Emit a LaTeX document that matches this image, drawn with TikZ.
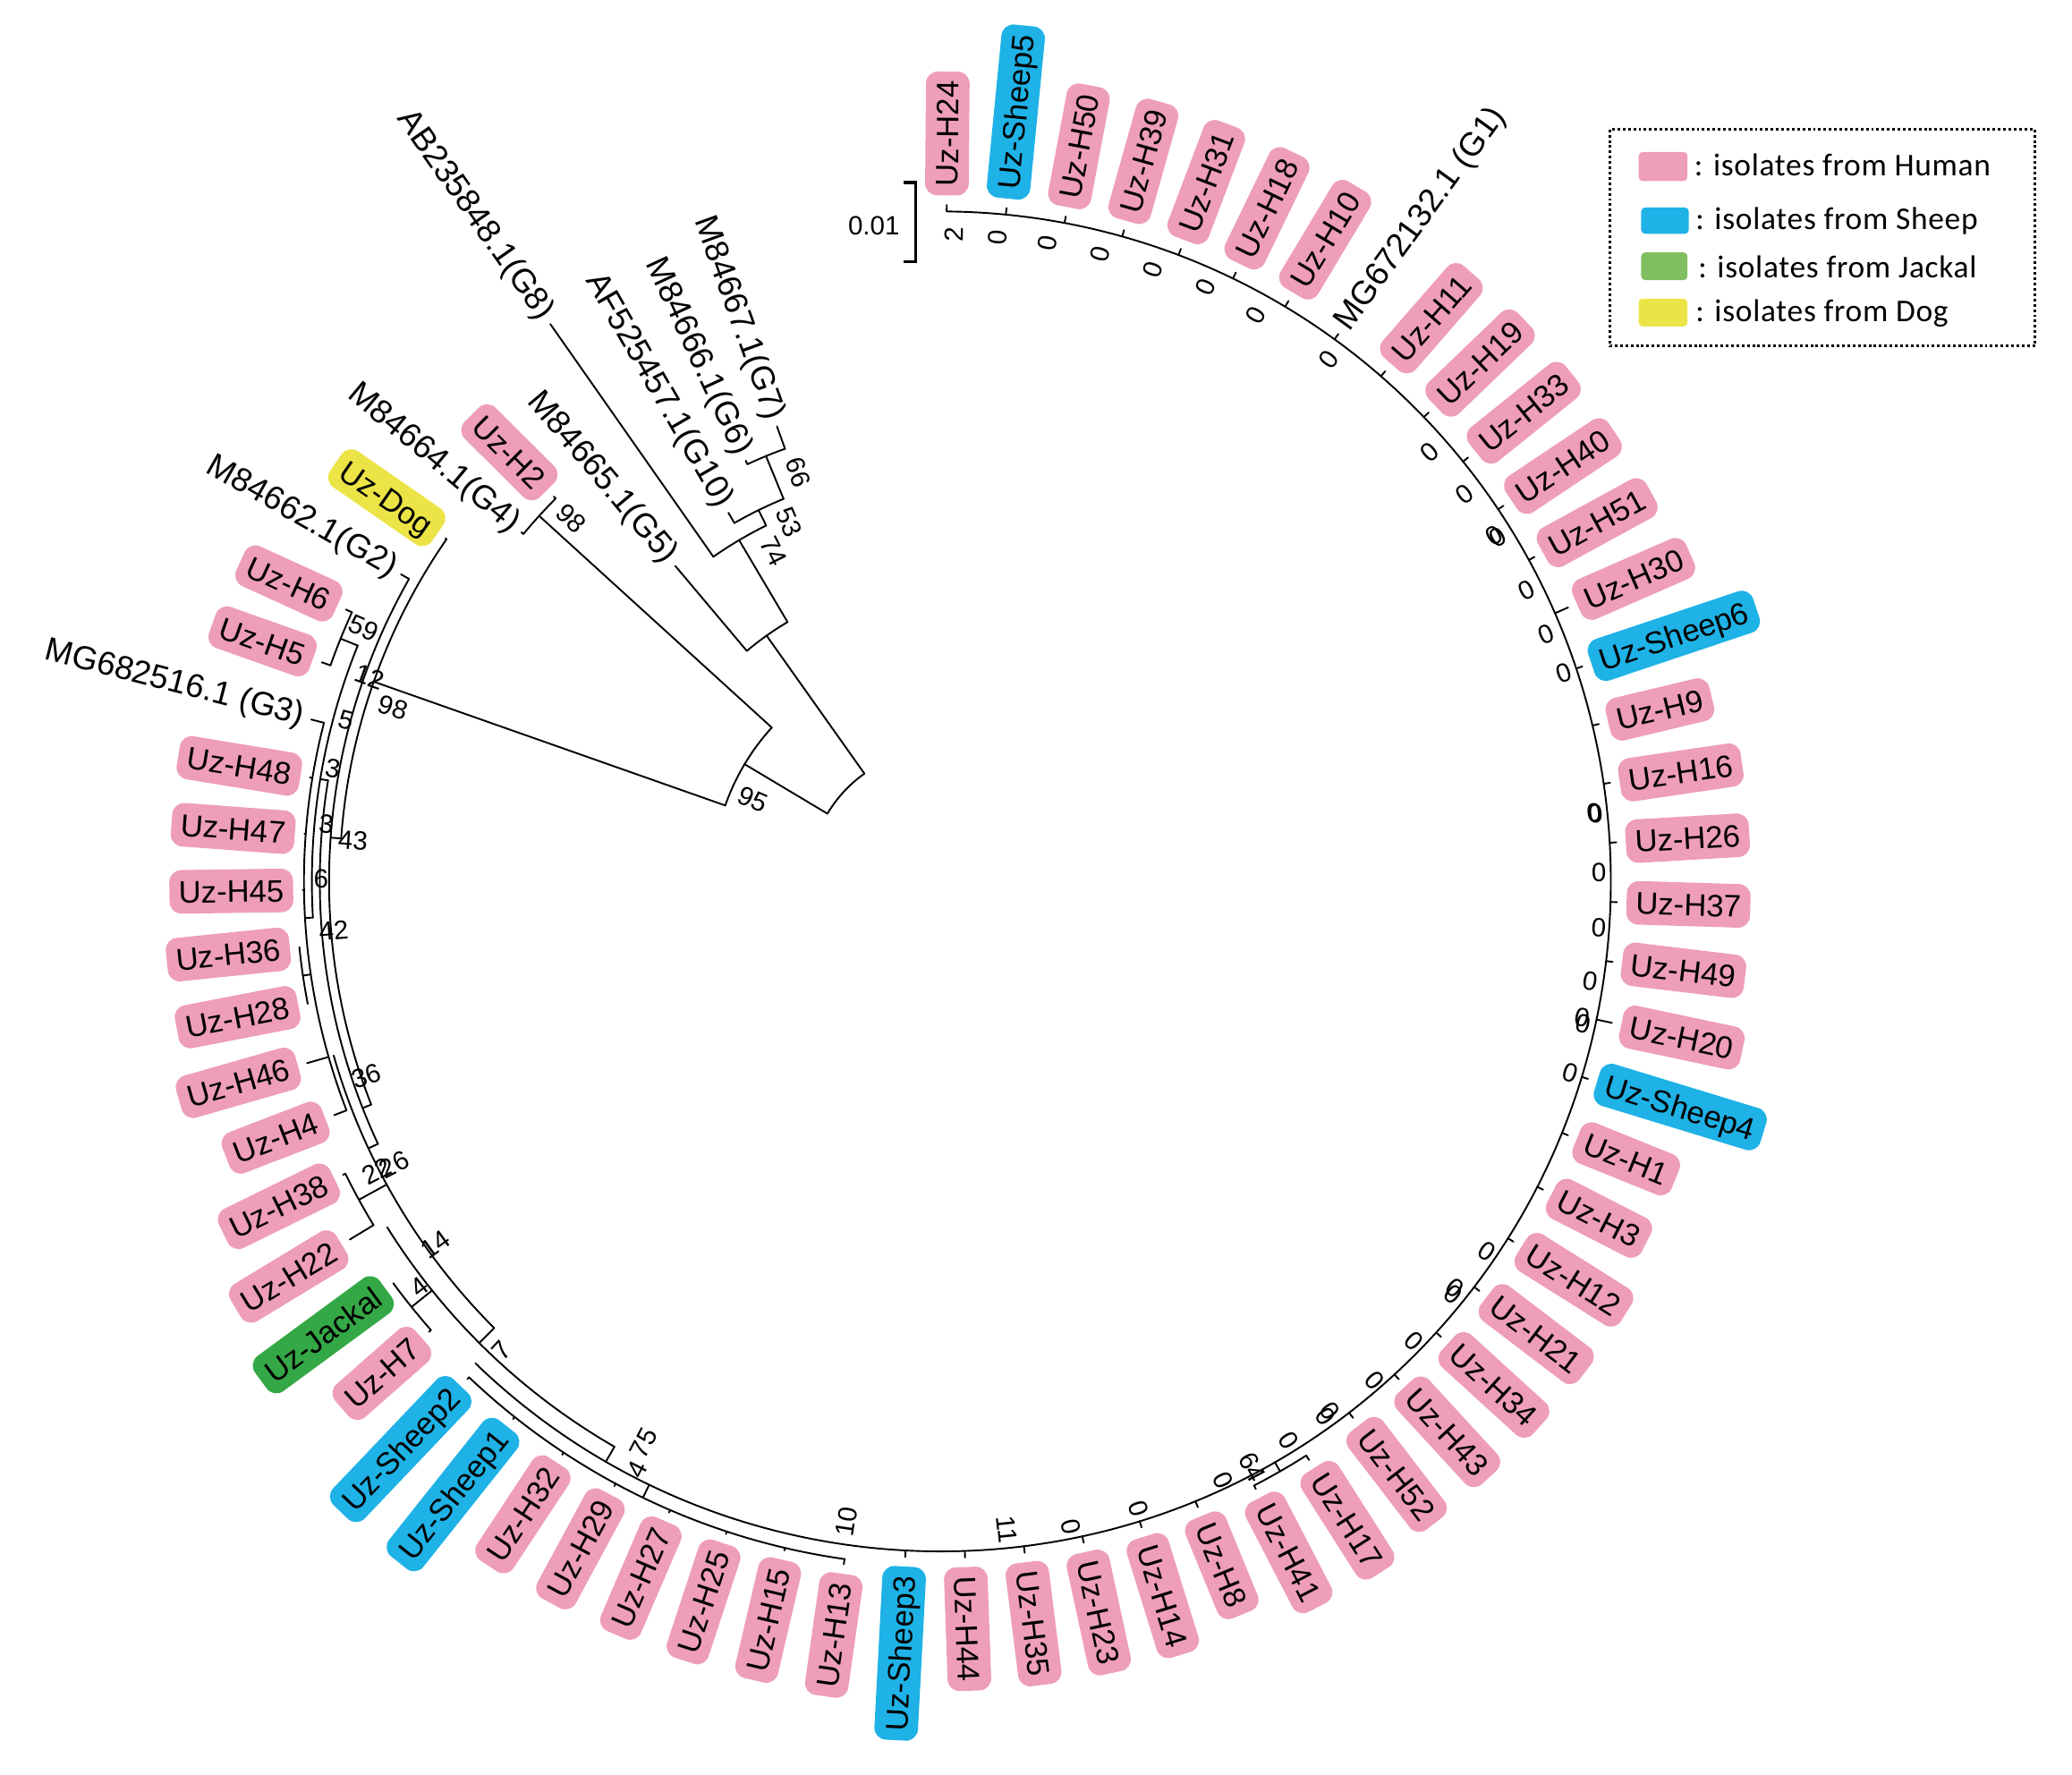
\documentclass[tikz,border=0pt]{standalone}
\usepackage{fontspec}
\setmainfont{Liberation Sans}
\newfontfamily\legendfont[LetterSpace=2]{Carlito}

\definecolor{humanpink}{RGB}{238,158,184}
\definecolor{sheepblue}{RGB}{30,178,230}
\definecolor{jackalgreen}{RGB}{52,168,70}
\definecolor{keygreen}{RGB}{128,190,96}
\definecolor{dogyellow}{RGB}{236,228,70}

\tikzset{
  branch/.style={line width=1.3pt, line cap=round},
  isolate/.style={rounded corners=9pt, inner xsep=7pt, inner ysep=0pt, minimum height=33pt,
    text height=17pt, text depth=0pt, font=\fontsize{23.5}{24}\selectfont},
  reflabel/.style={inner sep=2pt, text height=17pt, text depth=5pt, font=\fontsize{25}{26}\selectfont},
  bsval/.style={inner sep=0pt, font=\fontsize{20}{21}\selectfont},
  keytext/.style={anchor=west, inner sep=0pt, font=\legendfont\fontsize{24}{25}\selectfont}
}

% arc of a node: radius, from, to
\newcommand{\brarc}[3]{\draw[branch] (#2:#1) arc[start angle=#2, end angle=#3, radius=#1pt];}
% radial branch: angle, inner r, outer r
\newcommand{\brstem}[3]{\draw[branch] (#1:#2) -- (#1:#3);}
% isolate: name, slot, base r, tip r, colour, text
\newcommand{\isolate}[6]{%
  \pgfmathsetmacro\leafang{145.3+(#2-1)*5.07}
  \draw[branch] (\leafang:#3) -- (\leafang:#4);
  \pgfmathsetmacro\leafrad{#4+7}
  \pgfmathtruncatemacro\leafflip{and(mod(\leafang,360)>90, mod(\leafang,360)<270)}
  \ifnum\leafflip=1
    \node[isolate, fill=#5, rotate=\leafang-180, anchor=east] (#1) at (\leafang:\leafrad) {#6};
  \else
    \node[isolate, fill=#5, rotate=\leafang, anchor=west] (#1) at (\leafang:\leafrad) {#6};
  \fi}
% reference sequence: name, slot, base r, tip r, text
\newcommand{\refseq}[5]{%
  \pgfmathsetmacro\leafang{145.3+(#2-1)*5.07}
  \draw[branch] (\leafang:#3) -- (\leafang:#4);
  \pgfmathsetmacro\leafrad{#4+4}
  \pgfmathtruncatemacro\leafflip{and(mod(\leafang,360)>90, mod(\leafang,360)<270)}
  \ifnum\leafflip=1
    \node[reflabel, rotate=\leafang-180, anchor=east] (#1) at (\leafang:\leafrad) {#5};
  \else
    \node[reflabel, rotate=\leafang, anchor=west] (#1) at (\leafang:\leafrad) {#5};
  \fi}
% bootstrap value: name, angle, r, text
\newcommand{\bsv}[4]{%
  \pgfmathtruncatemacro\bsflip{and(mod(#2,360)>90, mod(#2,360)<270)}
  \ifnum\bsflip=1
    \node[bsval, rotate=#2-180] (#1) at (#2:#3) {#4};
  \else
    \node[bsval, rotate=#2] (#1) at (#2:#3) {#4};
  \fi}

\begin{document}
\begin{tikzpicture}[x=1pt, y=1pt]
\useasboundingbox (-712,-676) rectangle (856,667);

% reference genotypes
\brarc{100}{125.34}{149.15}
\brstem{125.34}{100}{228}
\brarc{228}{120.59}{130.09}
\brstem{120.59}{228}{300}
\brarc{300}{116.15}{125.02}
\brstem{116.15}{300}{313}
\brarc{313}{112.35}{119.95}
\brstem{112.35}{313}{348}
\brarc{348}{109.81}{114.88}
\brstem{149.15}{100}{173}
\brarc{173}{137.7}{160.6}
\brstem{137.7}{173}{411}
\brarc{411}{135.16}{140.23}

% G1-G3 complex
\brstem{160.6}{173}{455}
\brarc{455}{145.3}{175.9}
\brstem{175.9}{455}{463}
\brarc{463}{150.37}{201.4}
\brstem{201.4}{463}{470}
\brarc{470}{170.64}{205}
\brstem{170.64}{470}{476}
\brarc{476}{157.98}{183.3}
\brstem{157.98}{476}{490}
\brarc{490}{155.44}{160.51}
\brstem{183.3}{476}{482}
\brarc{482}{165.58}{201.07}
\brstem{188.4}{482}{488}
\brarc{488}{185.86}{190.93}
\brstem{205}{470}{478}
\brarc{478}{196}{225}
\brstem{208.68}{478}{502}
\brarc{502}{206.14}{211.21}
\brstem{225}{478}{494}
\brarc{494}{212}{240}
\brstem{218.8}{494}{514}
\brarc{514}{216.28}{221.35}
\brstem{240}{494}{507}
\brarc{507}{226}{449.4}
\brstem{244.2}{507}{518}
\brarc{518}{226.43}{261.94}
\brstem{299.9}{507}{515}
\brarc{515}{297.4}{302.45}

% reference leaves
\refseq{g7}{-6}{348}{366}{M84667.1(G7)}
\refseq{g6}{-5}{348}{351}{M84666.1(G6)}
\refseq{g10}{-4}{313}{322}{AF525457.1(G10)}
\refseq{g8}{-3}{300}{515}{AB235848.1(G8)}
\refseq{g5}{-2}{228}{312}{M84665.1(G5)}
\isolate{h2}{-1}{411}{413}{humanpink}{Uz-H2}
\refseq{g4}{0}{411}{413}{M84664.1(G4)}

% isolates round the circle
\isolate{dog}{1}{455}{456}{dogyellow}{Uz-Dog}
\refseq{g2}{2}{463}{470}{M84662.1(G2)}
\isolate{h6}{3}{490}{495}{humanpink}{Uz-H6}
\isolate{h5}{4}{490}{497}{humanpink}{Uz-H5}
\refseq{g3}{5}{482}{492}{MG682516.1 (G3)}
\isolate{h48}{6}{482}{484}{humanpink}{Uz-H48}
\isolate{h47}{7}{482}{483}{humanpink}{Uz-H47}
\isolate{h45}{8}{482}{483}{humanpink}{Uz-H45}
\isolate{h36}{9}{488}{488}{humanpink}{Uz-H36}
\isolate{h28}{10}{488}{488}{humanpink}{Uz-H28}
\isolate{h46}{11}{482}{499}{humanpink}{Uz-H46}
\isolate{h4}{12}{482}{492}{humanpink}{Uz-H4}
\isolate{h38}{13}{502}{504}{humanpink}{Uz-H38}
\isolate{h22}{14}{502}{523}{humanpink}{Uz-H22}
\isolate{jackal}{15}{514}{514}{jackalgreen}{Uz-Jackal}
\isolate{h7}{16}{514}{516}{humanpink}{Uz-H7}
\isolate{sheep2}{17}{518}{520}{sheepblue}{Uz-Sheep2}
\isolate{sheep1}{18}{518}{520}{sheepblue}{Uz-Sheep1}
\isolate{h32}{19}{518}{520}{humanpink}{Uz-H32}
\isolate{h29}{20}{518}{520}{humanpink}{Uz-H29}
\isolate{h27}{21}{518}{520}{humanpink}{Uz-H27}
\isolate{h25}{22}{518}{520}{humanpink}{Uz-H25}
\isolate{h15}{23}{518}{520}{humanpink}{Uz-H15}
\isolate{h13}{24}{518}{522}{humanpink}{Uz-H13}
\isolate{sheep3}{25}{507}{512}{sheepblue}{Uz-Sheep3}
\isolate{h44}{26}{507}{512}{humanpink}{Uz-H44}
\isolate{h35}{27}{507}{512}{humanpink}{Uz-H35}
\isolate{h23}{28}{507}{512}{humanpink}{Uz-H23}
\isolate{h14}{29}{507}{512}{humanpink}{Uz-H14}
\isolate{h8}{30}{507}{512}{humanpink}{Uz-H8}
\isolate{h41}{31}{515}{518}{humanpink}{Uz-H41}
\isolate{h17}{32}{515}{519}{humanpink}{Uz-H17}
\isolate{h52}{33}{507}{512}{humanpink}{Uz-H52}
\isolate{h43}{34}{507}{512}{humanpink}{Uz-H43}
\isolate{h34}{35}{507}{512}{humanpink}{Uz-H34}
\isolate{h21}{36}{507}{512}{humanpink}{Uz-H21}
\isolate{h12}{37}{507}{512}{humanpink}{Uz-H12}
\isolate{h3}{38}{507}{512}{humanpink}{Uz-H3}
\isolate{h1}{39}{507}{512}{humanpink}{Uz-H1}
\isolate{sheep4}{40}{507}{512}{sheepblue}{Uz-Sheep4}
\isolate{h20}{41}{507}{519}{humanpink}{Uz-H20}
\isolate{h49}{42}{507}{512}{humanpink}{Uz-H49}
\isolate{h37}{43}{507}{512}{humanpink}{Uz-H37}
\isolate{h26}{44}{507}{512}{humanpink}{Uz-H26}
\isolate{h16}{45}{507}{512}{humanpink}{Uz-H16}
\isolate{h9}{46}{507}{512}{humanpink}{Uz-H9}
\isolate{sheep6}{47}{507}{512}{sheepblue}{Uz-Sheep6}
\isolate{h30}{48}{507}{518}{humanpink}{Uz-H30}
\isolate{h51}{49}{507}{512}{humanpink}{Uz-H51}
\isolate{h40}{50}{507}{512}{humanpink}{Uz-H40}
\isolate{h33}{51}{507}{512}{humanpink}{Uz-H33}
\isolate{h19}{52}{507}{512}{humanpink}{Uz-H19}
\isolate{h11}{53}{507}{512}{humanpink}{Uz-H11}
\refseq{g1}{54}{507}{512}{MG672132.1 (G1)}
\isolate{h10}{55}{507}{512}{humanpink}{Uz-H10}
\isolate{h18}{56}{507}{512}{humanpink}{Uz-H18}
\isolate{h31}{57}{507}{512}{humanpink}{Uz-H31}
\isolate{h39}{58}{507}{512}{humanpink}{Uz-H39}
\isolate{h50}{59}{507}{512}{humanpink}{Uz-H50}
\isolate{sheep5}{60}{507}{512}{sheepblue}{Uz-Sheep5}
\isolate{h24}{61}{507}{512}{humanpink}{Uz-H24}

% bootstrap values
\bsv{bsA}{109.2}{328}{66}
\bsv{bsB}{112.9}{295}{53}
\bsv{bsC}{116.9}{280}{74}
\bsv{bsD}{135.5}{392}{98}
\bsv{bsE}{156.4}{155}{95}
\bsv{bsF}{156.3}{477}{59}
\bsv{bsG}{160.3}{459}{12}
\bsv{bsH}{162.4}{435}{98}
\bsv{bsI}{164.8}{466}{5}
\bsv{bsJ}{169.5}{468}{3}
\bsv{bsK}{174.7}{467}{3}
\bsv{bsL}{176.0}{446}{43}
\bsv{bsM}{179.8}{469}{6}
\bsv{bsN}{184.6}{461}{42}
\bsv{bsO}{198.7}{459}{36}
\bsv{bsP}{207.2}{480}{22}
\bsv{bsQ}{207.4}{466}{26}
\bsv{bsR}{215.7}{471}{14}
\bsv{bsS}{217.9}{500}{4}
\bsv{bsT}{226.9}{486}{7}
\bsv{bsU}{242.1}{481}{75}
\bsv{bsV}{242.7}{501}{4}
\bsv{bsW}{261.6}{490}{10}
\bsv{bsX}{275.8}{493}{11}
\bsv{z1}{281.4}{498}{0}
\bsv{z2}{287.5}{498}{0}
\bsv{z3}{295.2}{501}{0}
\bsv{bsY}{298.0}{502}{64}
\bsv{z4}{301.9}{498}{0}
\bsv{z5}{305.7}{499}{0}
\bsv{z5b}{306.3}{497}{0}
\bsv{z6}{311.0}{500}{0}
\bsv{z7}{315.8}{499}{0}
\bsv{z8}{321.1}{498}{0}
\bsv{z8b}{321.7}{496}{0}
\bsv{z9}{325.9}{499}{0}
\bsv{z10}{343.1}{498}{0}
\bsv{z11}{347.5}{498}{0}
\bsv{z11b}{348.0}{496}{0}
\bsv{z12}{351.3}{497}{0}
\bsv{z13}{356.0}{499}{0}
\bsv{z14}{0.8}{498}{0}
\bsv{z15}{5.9}{498}{0}
\bsv{z15b}{6.0}{497}{0}
\bsv{z16}{18.5}{497}{0}
\bsv{z17}{22.2}{495}{0}
\bsv{z18}{26.4}{495}{0}
\bsv{z19}{31.7}{495}{0}
\bsv{z19b}{32.0}{494}{0}
\bsv{z20}{36.5}{493}{0}
\bsv{z21}{41.3}{492}{0}
\bsv{z22}{53.4}{492}{0}
\bsv{z23}{60.9}{490}{0}
\bsv{z24}{66.0}{492}{0}
\bsv{z25}{70.9}{490}{0}
\bsv{z26}{75.8}{490}{0}
\bsv{z27}{80.5}{490}{0}
\bsv{z28}{85.0}{489}{0}
\bsv{bsZ}{88.8}{490}{2}

% scale bar
\coordinate (sbtop) at (-19,529);
\coordinate (sbbot) at (-19,469);
\draw[line width=2.5pt] ([xshift=-9pt]sbtop) -- (sbtop) -- (sbbot) -- ([xshift=-9pt]sbbot);
\node[bsval, anchor=east] (sblab) at (-31,496) {0.01};

% key
\draw[line width=2pt, dotted] (506,569) rectangle (828,405);
\fill[humanpink, rounded corners=3pt] (528,530) rectangle (565,552);
\fill[sheepblue, rounded corners=3pt] (530,490) rectangle (566,510);
\fill[keygreen, rounded corners=3pt] (530,455) rectangle (565,476);
\fill[dogyellow, rounded corners=3pt] (528,420) rectangle (565,441);
\node[keytext] (khuman) at (570,542) {: isolates from Human};
\node[keytext] (ksheep) at (571,500) {: isolates from Sheep};
\node[keytext] (kjackal) at (573,465) {: isolates from Jackal};
\node[keytext] (kdog) at (571,430) {: isolates from Dog};
\end{tikzpicture}
\end{document}
